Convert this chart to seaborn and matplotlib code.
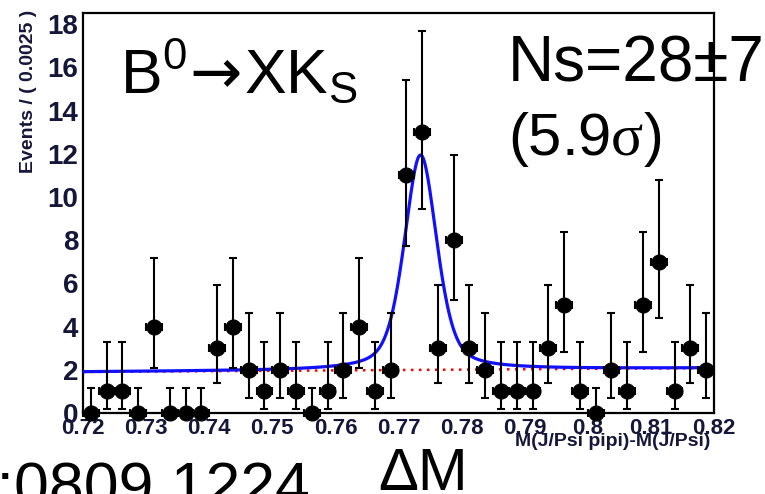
import numpy as np
import pandas as pd
import matplotlib
matplotlib.use("Agg")
import matplotlib.pyplot as plt
import seaborn as sns
from matplotlib import font_manager
from matplotlib.ticker import MultipleLocator

# --- data ---
bin_lo = 0.72
bin_width = 0.0025
counts = [0, 1, 1, 0, 4, 0, 0, 0, 3, 4,
          2, 1, 2, 1, 0, 1, 2, 4, 1, 2,
          11, 13, 3, 8, 3, 2, 1, 1, 1, 3,
          5, 1, 0, 2, 1, 5, 7, 1, 3, 2]

# asymmetric poisson error bars, by count
err_down = {0: 0.0, 1: 0.83, 2: 1.29, 3: 1.63, 4: 1.91, 5: 2.16, 7: 2.58, 8: 2.77, 11: 3.27, 13: 3.56}
err_up = {0: 1.15, 1: 2.30, 2: 2.64, 3: 2.92, 4: 3.16, 5: 3.38, 7: 3.77, 8: 3.95, 11: 4.42, 13: 4.70}

# fit result: peak on top of a linear background
peak_mean = 0.7735
peak_halfwidth = 0.00306
peak_height = 9.95
lorentz_frac = 0.45
bg_left, bg_right = 1.90, 2.08

x_ticks = [0.72, 0.73, 0.74, 0.75, 0.76, 0.77, 0.78, 0.79, 0.80, 0.81, 0.82]
x_tick_labels = ["0.72", "0.73", "0.74", "0.75", "0.76", "0.77", "0.78", "0.79", "0.8", "0.81", "0.82"]
y_ticks = [0, 2, 4, 6, 8, 10, 12, 14, 16, 18]

# --- fonts ---
sns.set_theme(style="white")
names = {f.name for f in font_manager.fontManager.ttflist}
narrow = "Liberation Sans Narrow" if "Liberation Sans Narrow" in names else "Liberation Sans"
plt.rcParams["font.family"] = ["Liberation Sans", "DejaVu Sans"]
plt.rcParams["text.color"] = "black"
plt.rcParams["mathtext.fontset"] = "custom"
plt.rcParams["mathtext.rm"] = "Liberation Sans"
plt.rcParams["mathtext.sf"] = "Liberation Serif"
plt.rcParams["mathtext.tt"] = "DejaVu Sans"
plt.rcParams["mathtext.it"] = "Liberation Sans:italic"

tick_col = "#16163a"

df = pd.DataFrame({"n": counts})
df["x"] = bin_lo + bin_width * (np.arange(len(counts)) + 0.5)
df["lo"] = df["n"].map(err_down)
df["hi"] = df["n"].map(err_up)

xf = np.linspace(bin_lo, bin_lo + bin_width * len(counts), 800)
bg = bg_left + (bg_right - bg_left) * (xf - xf[0]) / (xf[-1] - xf[0])
dx = xf - peak_mean
lor = peak_halfwidth ** 2 / (dx ** 2 + peak_halfwidth ** 2)
sig = peak_halfwidth / np.sqrt(2 * np.log(2))
gau = np.exp(-dx ** 2 / (2 * sig ** 2))
total = bg + peak_height * (lorentz_frac * lor + (1 - lorentz_frac) * gau)

W, H = 765, 494
fig = plt.figure(figsize=(W / 100, H / 100), dpi=100)
ax = fig.add_axes([83 / W, 1 - 413 / H, (714 - 83) / W, (413 - 13) / H])
ax.set_facecolor("white")

sns.lineplot(x=xf, y=bg, color="red", lw=1.8, linestyle=(0, (1, 2.2)), ax=ax, zorder=2)
sns.lineplot(x=xf, y=total, color="#1010ff", lw=2.3, ax=ax, zorder=3)
ax.errorbar(df["x"], df["n"], yerr=[df["lo"], df["hi"]], xerr=bin_width / 2,
            fmt="none", ecolor="black", elinewidth=1.5, capsize=3, capthick=1.5,
            zorder=4, clip_on=False)
sns.scatterplot(data=df, x="x", y="n", color="black", s=115, edgecolor="black",
                ax=ax, zorder=5, clip_on=False)

ax.set_xlim(0.72, 0.82)
ax.set_ylim(0, 18.52)
ax.set_xticks(x_ticks, labels=x_tick_labels, fontfamily="Liberation Sans",
              fontweight="bold", fontsize=16, color=tick_col)
ax.set_yticks(y_ticks, labels=[str(v) for v in y_ticks], fontfamily=narrow,
              fontweight="bold", fontsize=20, color=tick_col)
ax.xaxis.set_minor_locator(MultipleLocator(0.002))
ax.yaxis.set_minor_locator(MultipleLocator(0.2))
ax.tick_params(axis="x", which="major", direction="in", length=9.5, width=1.3, pad=3.5, color="black")
ax.tick_params(axis="x", which="minor", direction="in", length=5, width=1.2, color="black")
ax.tick_params(axis="y", which="major", direction="in", length=13, width=1.3, pad=3.5, color="black")
ax.tick_params(axis="y", which="minor", direction="in", length=5.8, width=1.2, color="black")
ax.set_xlabel("")
ax.set_ylabel("")
for side in ["left", "bottom", "top", "right"]:
    ax.spines[side].set_visible(True)
    ax.spines[side].set_color("black")
    ax.spines[side].set_linewidth(1.6)

# axis titles, ROOT style
fig.text(29 / W, 1 - 10 / H, "Events / ( 0.0025 )", rotation=90, ha="center", va="top",
         fontsize=14, fontweight="bold", fontfamily=narrow, color=tick_col)
fig.text(710 / W, 1 - 441 / H, "M(J/Psi pipi)-M(J/Psi)", ha="right", va="center",
         fontsize=14, fontweight="bold", fontfamily=narrow, color=tick_col)

# annotations
fig.text(120 / W, 1 - 93 / H, r"$\mathrm{B^0}\!\mathtt{\rightarrow}\!\mathrm{XK_S}$",
         fontsize=45, va="baseline", color="black")
fig.text(508 / W, 1 - 82 / H, "Ns=28±7", fontsize=46, va="baseline", color="black")
fig.text(508 / W, 1 - 155 / H, r"(5.9$\mathsf{\sigma}$)", fontsize=43, va="baseline", color="black")
fig.text(378 / W, 1 - 490 / H, "ΔM", fontsize=43, va="baseline", color="black")
fig.text(310 / W, 1 - 505 / H, "arXiv:0809.1224", ha="right", va="baseline", fontsize=45,
         color="black")

fig.savefig("out.png", dpi=100)
